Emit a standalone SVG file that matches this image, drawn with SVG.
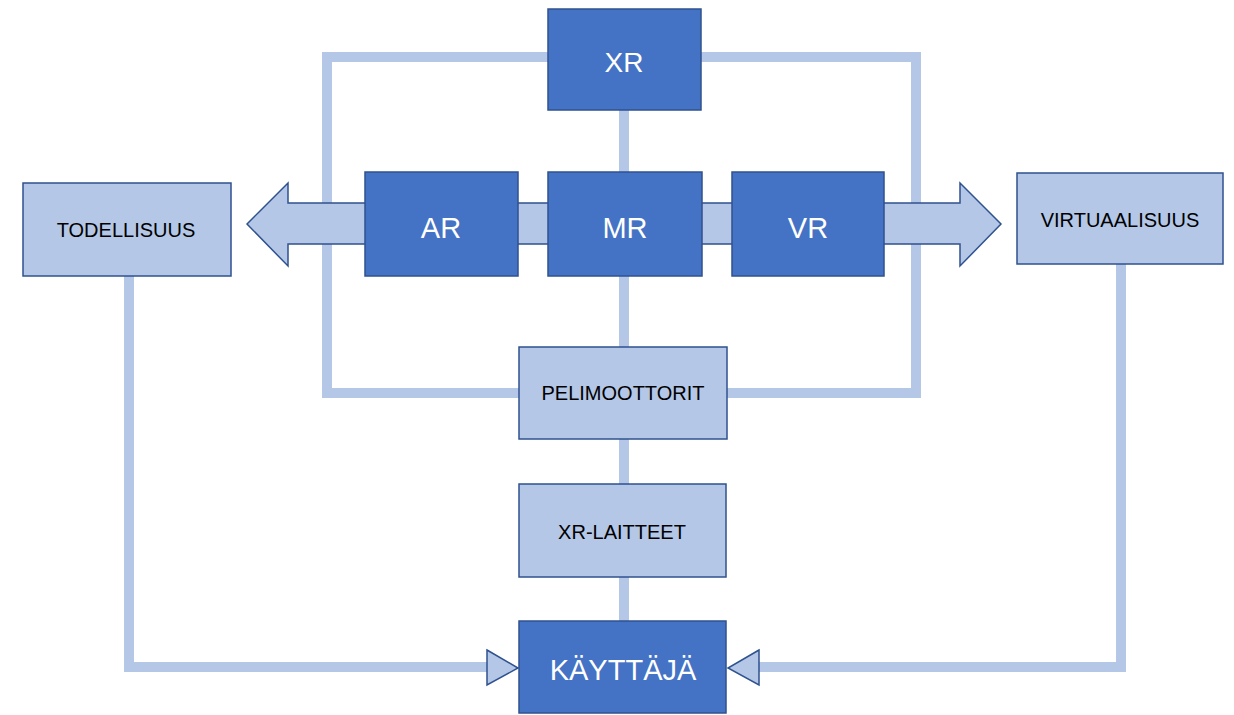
<svg xmlns="http://www.w3.org/2000/svg" width="1234" height="715" viewBox="0 0 1234 715">
<style>
.line{fill:none;stroke:#B4C7E7;stroke-width:10}
.dark{fill:#4472C4;stroke:#2F528F;stroke-width:1.5}
.light{fill:#B4C7E7;stroke:#2F528F;stroke-width:1.5}
.wt{font-family:"Liberation Sans",Arial,sans-serif;fill:#FFFFFF;text-anchor:middle}
.bt{font-family:"Liberation Sans",Arial,sans-serif;fill:#000000;text-anchor:middle;font-size:20px}
</style>
<rect width="1234" height="715" fill="#FFFFFF"/>
<g id="connectors">
<rect class="line" x="327" y="57" width="589" height="336"/>
<line class="line" x1="624" y1="110" x2="624" y2="172"/>
<line class="line" x1="624" y1="276" x2="624" y2="347"/>
<line class="line" x1="624" y1="439" x2="624" y2="484"/>
<line class="line" x1="624" y1="577" x2="624" y2="621"/>
<polyline class="line" points="129,276 129,667 490,667"/>
<polyline class="line" points="1121,264 1121,667 758,667"/>
<polygon class="light" points="487,650 518,668 487,685"/>
<polygon class="light" points="759,650 728,668 759,685"/>
<polygon id="double-arrow" class="light" points="247,224 288,183 288,203 960,203 960,183 1001,224 960,266 960,244 288,244 288,266"/>
</g>
<g id="xr"><rect class="dark" x="548" y="9" width="153" height="101"/><text class="wt" x="624" y="72" font-size="28">XR</text></g>
<g id="ar"><rect class="dark" x="365" y="172" width="153" height="104"/><text class="wt" x="441" y="238" font-size="29">AR</text></g>
<g id="mr"><rect class="dark" x="548" y="172" width="154" height="104"/><text class="wt" x="625" y="238" font-size="29">MR</text></g>
<g id="vr"><rect class="dark" x="732" y="172" width="152" height="104"/><text class="wt" x="808" y="238" font-size="29">VR</text></g>
<g id="todellisuus"><rect class="light" x="23" y="183" width="208" height="93"/><text class="bt" x="126" y="237">TODELLISUUS</text></g>
<g id="virtuaalisuus"><rect class="light" x="1017" y="173" width="206" height="91"/><text class="bt" x="1120" y="227">VIRTUAALISUUS</text></g>
<g id="pelimoottorit"><rect class="light" x="519" y="347" width="208" height="92"/><text class="bt" x="623" y="400">PELIMOOTTORIT</text></g>
<g id="xr-laitteet"><rect class="light" x="519" y="484" width="207" height="93"/><text class="bt" x="622" y="539">XR-LAITTEET</text></g>
<g id="kayttaja"><rect class="dark" x="519" y="621" width="207" height="92"/><text class="wt" x="623" y="680" font-size="29">KÄYTTÄJÄ</text></g>
</svg>
